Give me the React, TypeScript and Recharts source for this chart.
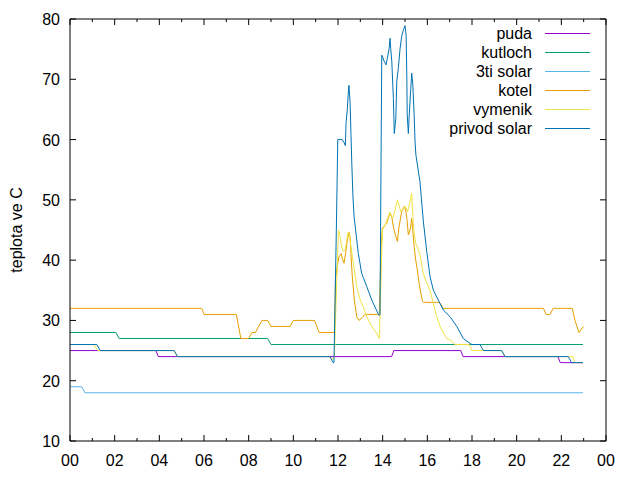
import { LineChart, Line, XAxis, YAxis, Legend } from "recharts";

// hodina, teplota
const puda: [number, number][] = [
  [0, 25], [3.85, 25], [3.95, 24], [14.4, 24], [14.5, 25], [17.5, 25], [17.6, 24],
  [21.85, 24], [21.95, 23], [22.97, 23],
];

const kutloch: [number, number][] = [
  [0, 28], [2.05, 28], [2.2, 27], [8.85, 27], [9.0, 26], [22.97, 26],
];

const solar3ti: [number, number][] = [
  [0, 19], [0.52, 19], [0.67, 18], [22.97, 18],
];

const kotel: [number, number][] = [
  [0, 32], [5.9, 32], [6.0, 31], [7.45, 31], [7.65, 27], [8.0, 27], [8.15, 28], [8.3, 28],
  [8.6, 30], [8.85, 30], [9.0, 29], [9.85, 29], [10.0, 30], [10.95, 30], [11.15, 28],
  [11.84, 28], [11.89, 37], [11.99, 39.5], [12.05, 40.6], [12.14, 41.1], [12.19, 40.3],
  [12.27, 39.5], [12.35, 41.4], [12.42, 43.3], [12.49, 44.6], [12.54, 43.9], [12.58, 41.1],
  [12.64, 37.3], [12.73, 33.4], [12.84, 30.6], [12.94, 30], [13.09, 30.5], [13.21, 31],
  [13.85, 31], [13.93, 42.5], [13.99, 45.3], [14.18, 46.1], [14.33, 47.8], [14.41, 47.2],
  [14.48, 45.5], [14.59, 43.9], [14.66, 43.1], [14.73, 45.5], [14.85, 48.0], [14.97, 48.9],
  [15.03, 48.3], [15.09, 46.7], [15.15, 44.2], [15.23, 45.0], [15.3, 46.9], [15.35, 45.0],
  [15.41, 42.2], [15.48, 40.0], [15.55, 38.4], [15.63, 36.2], [15.71, 34.5], [15.79, 33.1],
  [15.82, 33], [16.54, 33], [16.72, 32], [21.2, 32], [21.32, 31], [21.5, 31], [21.63, 32],
  [22.49, 32], [22.61, 30], [22.79, 28], [22.99, 29],
];

const vymenik: [number, number][] = [
  [0, 26], [1.05, 26], [1.25, 25], [4.65, 25], [4.8, 24], [11.6, 24], [11.75, 23.5],
  [11.84, 24], [11.91, 32.8], [12.02, 45.0], [12.09, 43.9], [12.17, 42.2], [12.24, 41.4],
  [12.32, 41.7], [12.39, 43.3], [12.46, 44.7], [12.51, 44.4], [12.58, 42.2], [12.69, 39.5],
  [12.84, 35.6], [12.99, 33.4], [13.13, 32.3], [13.29, 30.6], [13.51, 29.0], [13.73, 27.9],
  [13.85, 27.0], [13.88, 30.6], [13.93, 37.3], [13.99, 45.0], [14.11, 45.8], [14.25, 47.2],
  [14.33, 48.0], [14.41, 46.9], [14.48, 47.2], [14.59, 48.9], [14.66, 50.0], [14.73, 49.1],
  [14.82, 48.0], [14.93, 48.6], [15.03, 48.9], [15.11, 48.0], [15.19, 49.1], [15.3, 51.1],
  [15.35, 47.2], [15.41, 44.4], [15.48, 42.8], [15.6, 41.7], [15.67, 40.8], [15.82, 37.8],
  [15.97, 36.2], [16.12, 35.0], [16.27, 32.8], [16.42, 30.6], [16.57, 29.0], [16.72, 27.9],
  [16.87, 27.0], [17.02, 26.8], [17.24, 26], [17.88, 26], [17.99, 25], [19.33, 25],
  [19.48, 24], [22.51, 24], [22.61, 23], [22.97, 23],
];

const privodSolar: [number, number][] = [
  [0, 26], [1.2, 26], [1.35, 25], [4.66, 25], [4.82, 24], [11.64, 24], [11.78, 23],
  [11.82, 23], [11.93, 46], [11.99, 60], [12.19, 60], [12.27, 59.5], [12.33, 59],
  [12.36, 62.7], [12.42, 65.2], [12.46, 67.7], [12.49, 69], [12.54, 66.3], [12.58, 61],
  [12.62, 55.8], [12.67, 50.5], [12.72, 47.2], [12.78, 45.3], [12.91, 41.1], [13.06, 37.8],
  [13.29, 35.6], [13.51, 33.4], [13.81, 31.0], [13.85, 30.8], [13.88, 31], [13.96, 74],
  [14.08, 72.9], [14.15, 72.4], [14.21, 73.5], [14.29, 75.1], [14.33, 76.8], [14.36, 75.1],
  [14.41, 72.9], [14.48, 66.8], [14.52, 61.0], [14.59, 63.5], [14.63, 69.6], [14.7, 71.8],
  [14.78, 75.1], [14.85, 77.1], [14.93, 78.2], [15.0, 78.9], [15.05, 77.3], [15.08, 70.7],
  [15.1, 64.1], [15.15, 61.0], [15.19, 64.1], [15.26, 68.5], [15.3, 71.0], [15.35, 69.1],
  [15.41, 64.1], [15.45, 59.6], [15.49, 57.4], [15.67, 53.0], [15.82, 46.5], [15.97, 41.5],
  [16.12, 37.3], [16.27, 35.0], [16.42, 33.9], [16.57, 32.8], [16.72, 31.7], [17.02, 30.6],
  [17.32, 29.0], [17.61, 27.0], [17.91, 26.2], [18.0, 26], [18.36, 26], [18.51, 25],
  [19.33, 25], [19.48, 24], [22.31, 24], [22.46, 23], [22.97, 23],
];

const hourTicks = Array.from({ length: 25 }, (_, i) => i);
const tempTicks = [10, 20, 30, 40, 50, 60, 70, 80];

const series = [
  { name: "puda", color: "#9400d3", data: puda },
  { name: "kutloch", color: "#009e73", data: kutloch },
  { name: "3ti solar", color: "#56b4e9", data: solar3ti },
  { name: "kotel", color: "#e69f00", data: kotel },
  { name: "vymenik", color: "#f0e442", data: vymenik },
  { name: "privod solar", color: "#0072b2", data: privodSolar },
];

const FONT = '"Liberation Sans", Arial, sans-serif';

const hourLabel = (h: number) => String(h % 24).padStart(2, "0");

function BottomTick(props: any) {
  const { x, y, payload } = props;
  const major = payload.value % 2 === 0;
  return (
    <g>
      <line x1={x} x2={x} y1={y} y2={y - (major ? 6 : 3)} stroke="#000" />
      {major && (
        <text x={x} y={y + 25} textAnchor="middle" fontSize={16} fontFamily={FONT} fill="#000">
          {hourLabel(payload.value)}
        </text>
      )}
    </g>
  );
}

function TopTick(props: any) {
  const { x, y, payload } = props;
  const major = payload.value % 2 === 0;
  return <line x1={x} x2={x} y1={y} y2={y + (major ? 6 : 3)} stroke="#000" />;
}

function LeftTick(props: any) {
  const { x, y, payload } = props;
  return (
    <g>
      <line x1={x} x2={x + 6} y1={y} y2={y} stroke="#000" />
      <text x={x - 10} y={y + 6} textAnchor="end" fontSize={16} fontFamily={FONT} fill="#000">
        {payload.value}
      </text>
    </g>
  );
}

function RightTick(props: any) {
  const { x, y } = props;
  return <line x1={x} x2={x - 6} y1={y} y2={y} stroke="#000" />;
}

function YLabel(props: any) {
  const vb = props.viewBox;
  const cx = vb.x + 16;
  const cy = vb.y + vb.height / 2;
  return (
    <text
      transform={`translate(${cx},${cy}) rotate(-90)`}
      textAnchor="middle"
      dominantBaseline="central"
      fontSize={16}
      fontFamily={FONT}
      fill="#000"
    >
      teplota ve C
    </text>
  );
}

function LegendBox() {
  return (
    <div style={{ position: "relative", width: 640, height: 150, fontFamily: FONT }}>
      {series.map((s, i) => (
        <div
          key={s.name}
          style={{
            position: "absolute",
            left: 400,
            top: 24 + 19 * i,
            height: 19,
            display: "flex",
            alignItems: "center",
          }}
        >
          <span style={{ width: 132, textAlign: "right", fontSize: 16, lineHeight: "19px", color: "#000" }}>
            {s.name}
          </span>
          <span style={{ marginLeft: 13, width: 45, height: 1, background: s.color }} />
        </div>
      ))}
    </div>
  );
}

export default function App() {
  return (
    <div style={{ position: "absolute", left: 0, top: 0, width: 640, height: 480, background: "#fff" }}>
      <LineChart width={640} height={480} margin={{ top: 18, right: 33, bottom: 38, left: 0 }}>
        <XAxis
          xAxisId="b"
          type="number"
          dataKey="t"
          domain={[0, 24]}
          allowDataOverflow
          ticks={hourTicks}
          interval={0}
          height={1}
          tickSize={0}
          tickMargin={0}
          tick={<BottomTick />}
          axisLine={{ stroke: "#000" }}
        />
        <XAxis
          xAxisId="t"
          orientation="top"
          type="number"
          dataKey="t"
          domain={[0, 24]}
          allowDataOverflow
          ticks={hourTicks}
          interval={0}
          height={1}
          tickSize={0}
          tickMargin={0}
          tick={<TopTick />}
          axisLine={{ stroke: "#000" }}
        />
        <YAxis
          yAxisId="l"
          type="number"
          domain={[10, 80]}
          allowDataOverflow
          ticks={tempTicks}
          interval={0}
          width={70}
          tickSize={0}
          tickMargin={0}
          tick={<LeftTick />}
          axisLine={{ stroke: "#000" }}
          label={{ content: <YLabel /> }}
        />
        <YAxis
          yAxisId="r"
          orientation="right"
          type="number"
          domain={[10, 80]}
          allowDataOverflow
          ticks={tempTicks}
          interval={0}
          width={1}
          tickSize={0}
          tickMargin={0}
          tick={<RightTick />}
          axisLine={{ stroke: "#000" }}
        />
        <Legend
          layout="vertical"
          align="center"
          verticalAlign="middle"
          wrapperStyle={{ left: 0, top: 0, width: 640 }}
          content={<LegendBox />}
        />
        {series.map((s) => (
          <Line
            key={s.name}
            xAxisId="b"
            yAxisId="l"
            name={s.name}
            data={s.data.map(([t, v]) => ({ t, v }))}
            dataKey="v"
            type="linear"
            stroke={s.color}
            strokeWidth={1}
            dot={false}
            activeDot={false}
            isAnimationActive={false}
          />
        ))}
      </LineChart>
    </div>
  );
}
